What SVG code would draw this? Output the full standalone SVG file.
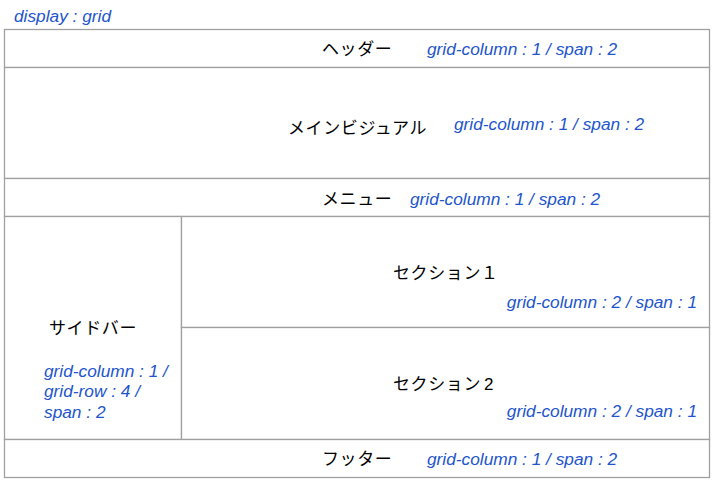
<svg xmlns="http://www.w3.org/2000/svg" width="714" height="480" viewBox="0 0 714 480">
<style>
.box{fill:#fff;stroke:#a0a0a0;stroke-width:1.3}
.jp{font-family:"Liberation Sans","Noto Sans CJK JP",sans-serif;font-size:17px;letter-spacing:0.6px;fill:#000}
.css{font-family:"Liberation Sans",Arial,sans-serif;font-style:italic;font-size:17.3px;fill:#2255cc}
</style>
<rect width="714" height="480" fill="#fff"/>
<text class="css" x="14" y="22">display : grid</text>
<g id="header">
<rect class="box" x="4.5" y="29.5" width="705" height="38"/>
<text class="jp" x="322" y="55">ヘッダー</text>
<text class="css" x="427" y="55">grid-column : 1 / span : 2</text>
</g>
<g id="mainvisual">
<rect class="box" x="4.5" y="67.5" width="705" height="111"/>
<text class="jp" x="288" y="134">メインビジュアル</text>
<text class="css" x="454" y="130">grid-column : 1 / span : 2</text>
</g>
<g id="menu">
<rect class="box" x="4.5" y="178.5" width="705" height="38"/>
<text class="jp" x="322" y="205">メニュー</text>
<text class="css" x="410" y="205">grid-column : 1 / span : 2</text>
</g>
<g id="sidebar">
<rect class="box" x="4.5" y="216.5" width="177" height="223"/>
<text class="jp" x="49" y="334">サイドバー</text>
<text class="css" x="44" y="377">grid-column : 1 /</text>
<text class="css" x="44" y="397">grid-row : 4 /</text>
<text class="css" x="44" y="418">span : 2</text>
</g>
<g id="section1">
<rect class="box" x="181.5" y="216.5" width="528" height="111"/>
<text class="jp" x="393" y="279">セクション１</text>
<text class="css" x="697" y="308" text-anchor="end">grid-column : 2 / span : 1</text>
</g>
<g id="section2">
<rect class="box" x="181.5" y="327.5" width="528" height="112"/>
<text class="jp" x="393" y="390">セクション<tspan dx="3">2</tspan></text>
<text class="css" x="697" y="417" text-anchor="end">grid-column : 2 / span : 1</text>
</g>
<g id="footer">
<rect class="box" x="4.5" y="439.5" width="705" height="38"/>
<text class="jp" x="322" y="465">フッター</text>
<text class="css" x="427" y="465">grid-column : 1 / span : 2</text>
</g>
<g id="connectors"></g>
</svg>
